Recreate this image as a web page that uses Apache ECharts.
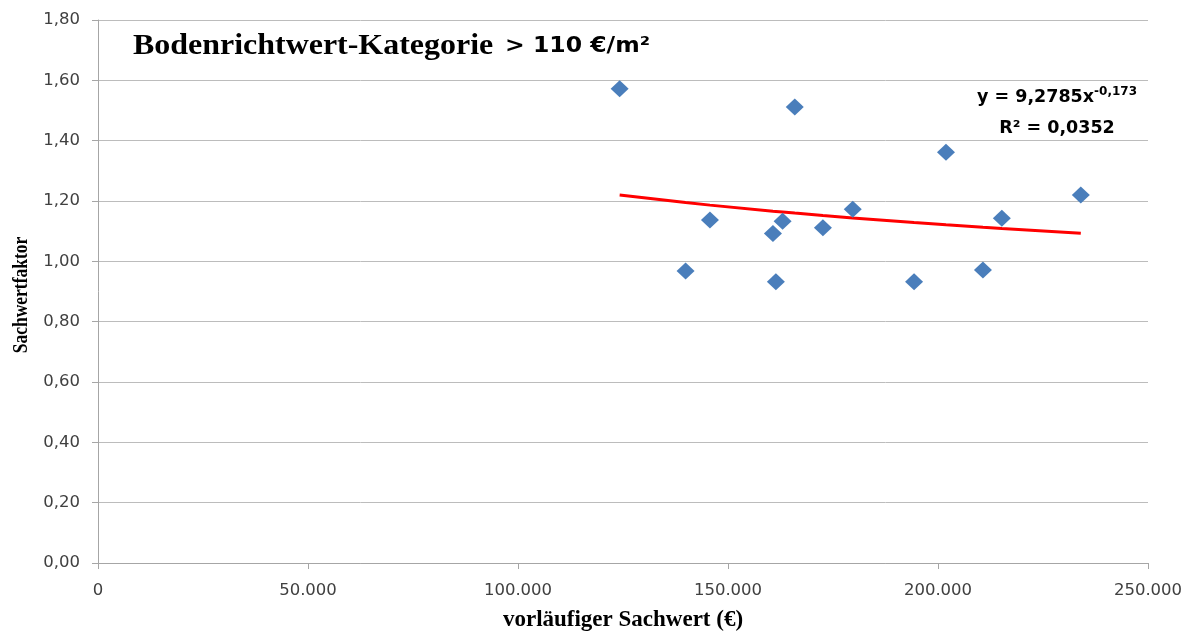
<!DOCTYPE html>
<html>
<head>
<meta charset="utf-8">
<script src="https://cdn.jsdelivr.net/npm/echarts@6/dist/echarts.min.js"></script>
<style>
  html, body { margin: 0; padding: 0; background: #fff; }
  #chart { width: 1192px; height: 633px; }
</style>
</head>
<body>
<div id="chart"></div>
<script>
// Vorläufiger Sachwert (€) und Sachwertfaktor je Kauffall
const sachwert = [124200, 165900, 201900, 234000, 179700, 215200, 145700, 163000, 172600, 160700, 139900, 210700, 161400, 194300];
const faktor   = [1.572, 1.512, 1.362, 1.220, 1.173, 1.143, 1.137, 1.133, 1.111, 1.092, 0.968, 0.971, 0.932, 0.932];

// Potenz-Trendlinie y = a * x^b (Koeffizienten wie in der Beschriftung)
const trendCoeffA = 9.2785;
const trendCoeffB = -0.173;
const trendLabel = ['y = 9,2785x', '-0,173', 'R² = 0,0352'];

const titleMain = 'Bodenrichtwert-Kategorie';
const titleSuffix = '> 110 €/m²';
const xAxisName = 'vorläufiger Sachwert (€)';
const yAxisName = 'Sachwertfaktor';

const points = sachwert.map((x, i) => [x, faktor[i]]);
const trendXs = sachwert.slice().sort((a, b) => a - b);
const trend = trendXs.map(x => [x, trendCoeffA * Math.pow(x, trendCoeffB)]);

const chart = echarts.init(document.getElementById('chart'));
chart.setOption({
  animation: false,
  backgroundColor: '#ffffff',
  grid: { left: 98, right: 44, top: 20, bottom: 70, containLabel: false, outerBoundsMode: 'none' },
  graphic: [
    {
      type: 'text', x: 133, y: 46, scaleX: 1.065,
      style: {
        text: titleMain, fontFamily: 'Liberation Serif', fontWeight: 'bold', fontSize: 30,
        fill: '#000', align: 'left', verticalAlign: 'middle'
      }
    },
    {
      type: 'text', x: 505, y: 47, scaleX: 1.12,
      style: {
        text: titleSuffix, fontFamily: 'DejaVu Sans', fontWeight: 'bold', fontSize: 21,
        fill: '#000', align: 'left', verticalAlign: 'middle'
      }
    },
    {
      type: 'text', x: 1057, y: 97,
      style: {
        text: '{m|' + trendLabel[0] + '}{s|' + trendLabel[1] + '}',
        align: 'center', verticalAlign: 'middle',
        rich: {
          m: { fontFamily: 'DejaVu Sans', fontWeight: 'bold', fontSize: 17.5, fill: '#000' },
          s: { fontFamily: 'DejaVu Sans', fontWeight: 'bold', fontSize: 12, fill: '#000', verticalAlign: 'top', padding: [0, 0, 10, 0] }
        }
      }
    },
    {
      type: 'text', x: 1057, y: 128,
      style: {
        text: trendLabel[2], fontFamily: 'DejaVu Sans', fontWeight: 'bold', fontSize: 17.5,
        fill: '#000', align: 'center', verticalAlign: 'middle'
      }
    },
    {
      type: 'text', x: 21, y: 295, rotation: Math.PI / 2, scaleY: 1.25,
      style: {
        text: yAxisName, fontFamily: 'Liberation Serif', fontWeight: 'bold', fontSize: 17.5,
        fill: '#000', align: 'center', verticalAlign: 'middle'
      }
    }
  ],
  xAxis: {
    type: 'value', min: 0, max: 250000, interval: 50000,
    name: xAxisName, nameLocation: 'middle', nameGap: 46,
    nameTextStyle: { fontFamily: 'Liberation Serif', fontWeight: 'bold', fontSize: 23, color: '#000' },
    axisLine: { show: true, lineStyle: { color: '#a6a6a6', width: 1 } },
    axisTick: { show: true, length: 6, lineStyle: { color: '#a6a6a6' } },
    splitLine: { show: false },
    axisLabel: {
      fontFamily: 'DejaVu Sans', fontSize: 16.5, color: '#404040', margin: 19,
      formatter: v => v === 0 ? '0' : v.toString().replace(/\B(?=(\d{3})+(?!\d))/g, '.')
    }
  },
  yAxis: {
    type: 'value', min: 0, max: 1.8, interval: 0.2,
    axisLine: { show: true, lineStyle: { color: '#a6a6a6', width: 1 } },
    axisTick: { show: true, length: 6, lineStyle: { color: '#a6a6a6' } },
    splitLine: { show: true, lineStyle: { color: '#bcbcbc', width: 1 } },
    axisLabel: {
      fontFamily: 'DejaVu Sans', fontSize: 16.5, color: '#404040', margin: 18,
      formatter: v => v.toFixed(2).replace('.', ',')
    }
  },
  series: [
    {
      type: 'line', data: trend, showSymbol: false, smooth: false,
      lineStyle: { color: '#ff0000', width: 3 }, z: 2
    },
    {
      type: 'scatter', data: points, symbol: 'diamond', symbolSize: [18, 17],
      itemStyle: { color: '#4a7ebb', opacity: 1 }, z: 3
    }
  ]
});
</script>
</body>
</html>
